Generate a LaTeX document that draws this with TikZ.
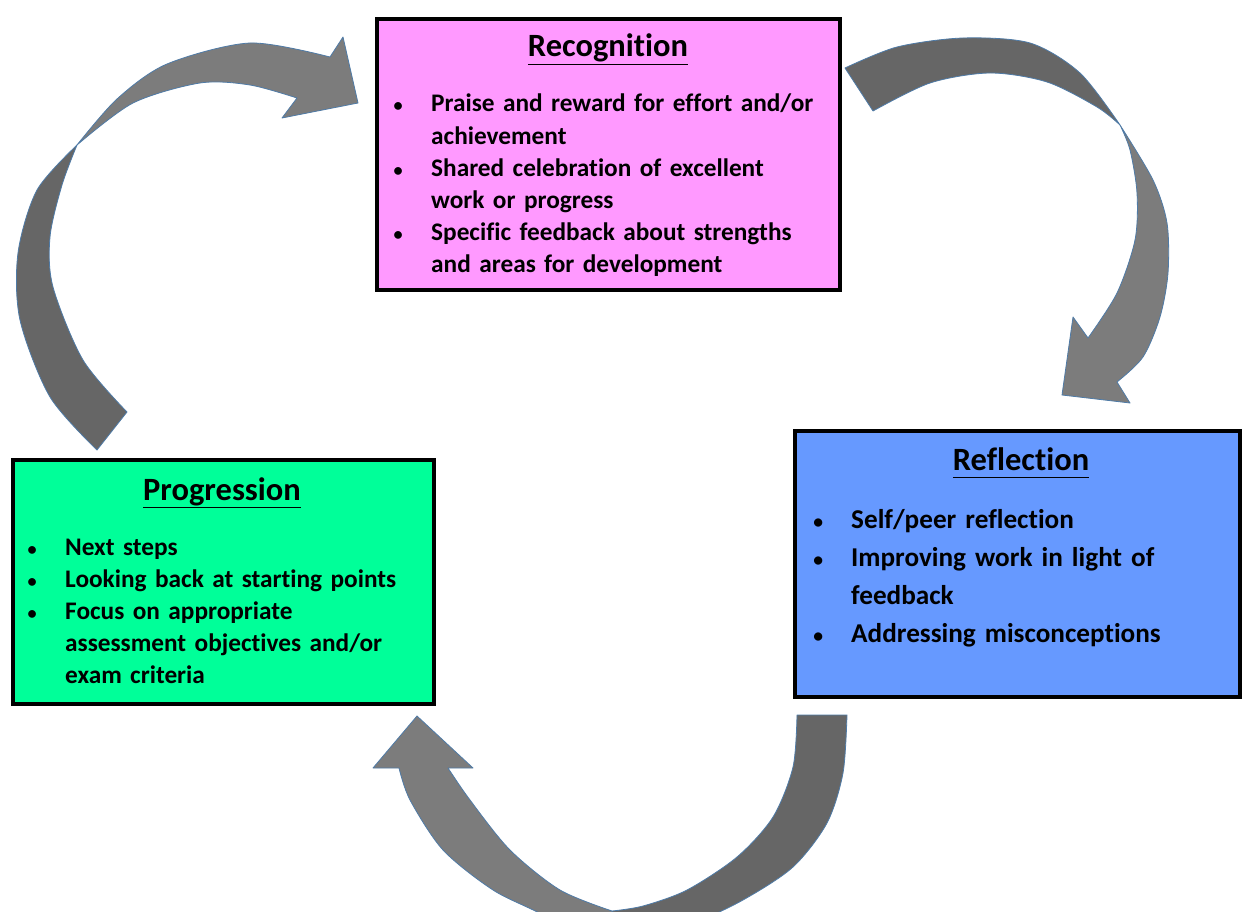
\documentclass[tikz,border=0pt]{standalone}
\usepackage{fontspec}
\setmainfont{Carlito}[Ligatures={NoCommon,NoContextual}]
\definecolor{recfill}{HTML}{FF99FF}
\definecolor{reffill}{HTML}{6699FF}
\definecolor{progfill}{HTML}{00FF99}
\definecolor{arrdark}{HTML}{666666}
\definecolor{arrlight}{HTML}{7C7C7C}
\definecolor{arrline}{HTML}{4F7BA7}
\newcommand{\bd}{33pt}
\newcommand{\bul}{\makebox[0pt]{\scalebox{0.72}{\textbullet}}\hspace*{\bd}}
\newcommand{\cnt}{\hspace*{\bd}}
\newcommand{\ttl}[1]{\underline{#1\vphantom{gp}}}
\begin{document}
\begin{tikzpicture}[x=1pt,y=-1pt,
  box/.style={draw=black, line width=3.5pt, inner sep=0pt},
  boxtitle/.style={font=\bfseries\fontsize{32.5}{38}\selectfont, anchor=base, inner sep=0pt},
  items/.style={font=\bfseries\fontsize{25.3}{32.2}\selectfont, anchor=base west, align=left, inner sep=0pt, text width=460pt},
  arrdk/.style={fill=arrdark, draw=arrline, line width=0.8pt, line join=round},
  arrlt/.style={fill=arrlight, draw=arrline, line width=0.8pt, line join=round}]
\useasboundingbox (0,0) rectangle (1242,912);
\clip (0,0) rectangle (1242,912);
\fill[white] (0,0) rectangle (1242,912);

% ---- arrow 1: Progression -> Recognition
\draw[arrdk] plot[smooth] coordinates {(97,450) (50,397) (20,320) (18,253) (37,190) (77,145)}
  -- plot[smooth] coordinates {(77,145) (62,185) (50,237) (53,287) (83,360) (127,412)} -- cycle;
\draw[arrlt] plot[smooth] coordinates {(77,145) (117,99) (167,64) (250,43) (330,57)}
  -- (343,37) -- (358,103) -- (282,118)
  -- plot[smooth] coordinates {(297,98) (250,85) (200,83) (133,103) (77,145)} -- cycle;

% ---- arrow 2: Recognition -> Reflection
\draw[arrdk] plot[smooth] coordinates {(845,68) (897,47) (963,38) (1030,43) (1080,73) (1120,125)}
  -- plot[smooth] coordinates {(1120,125) (1097,107) (1047,82) (990,73) (930,83) (873,111)} -- cycle;
\draw[arrlt] plot[smooth] coordinates {(1120,125) (1153,180) (1167,223) (1168,273) (1160,317) (1143,357) (1117,382)}
  -- (1130,403) -- (1062,395) -- (1073,317)
  -- plot[smooth] coordinates {(1088,338) (1117,293) (1135,240) (1137,193) (1130,150) (1120,125)} -- cycle;

% ---- arrow 3: Reflection -> Progression
\draw[arrdk] plot[smooth] coordinates {(847,715) (843,773) (827,823) (793,867) (743,900) (690,925) (612,955)}
  -- (612,911)
  -- plot[smooth] coordinates {(612,911) (643,906) (687,890) (737,857) (773,817) (793,767) (797,715)} -- cycle;
\draw[arrlt] plot[smooth] coordinates {(612,911) (560,890) (510,850) (470,800) (448,768)}
  -- (473,768) -- (417,716) -- (373,768)
  -- plot[smooth] coordinates {(399,768) (410,800) (443,850) (493,890) (543,915) (612,955)} -- cycle;

% ---- boxes
\node[box, fill=recfill, minimum width=463pt, minimum height=271pt] (rec) at (608.5,154.5) {};
\node[box, fill=reffill, minimum width=445pt, minimum height=266pt] (ref) at (1017.5,564) {};
\node[box, fill=progfill, minimum width=421pt, minimum height=244pt] (prog) at (223.5,582) {};

\node[boxtitle] (rect) at (608,57) {\ttl{Recognition}};
\node[boxtitle] (reft) at (1021,470) {\ttl{Reflection}};
\node[boxtitle] (progt) at (222,500) {\ttl{Progression}};

\node[items] (recl) at (398,112) {\bul Praise and reward for effort and/or\\
  \cnt achievement\\
  \bul Shared celebration of excellent\\
  \cnt work or progress\\
  \bul Specific feedback about strengths\\
  \cnt and areas for development};
\node[items, font=\bfseries\fontsize{27.2}{38}\selectfont] (refl) at (818,528) {\bul Self/peer reflection\\
  \bul Improving work in light of\\
  \cnt feedback\\
  \bul Addressing misconceptions};
\node[items] (progl) at (32,555) {\bul Next steps\\
  \bul Looking back at starting points\\
  \bul Focus on appropriate\\
  \cnt assessment objectives and/or\\
  \cnt exam criteria};
\end{tikzpicture}
\end{document}
